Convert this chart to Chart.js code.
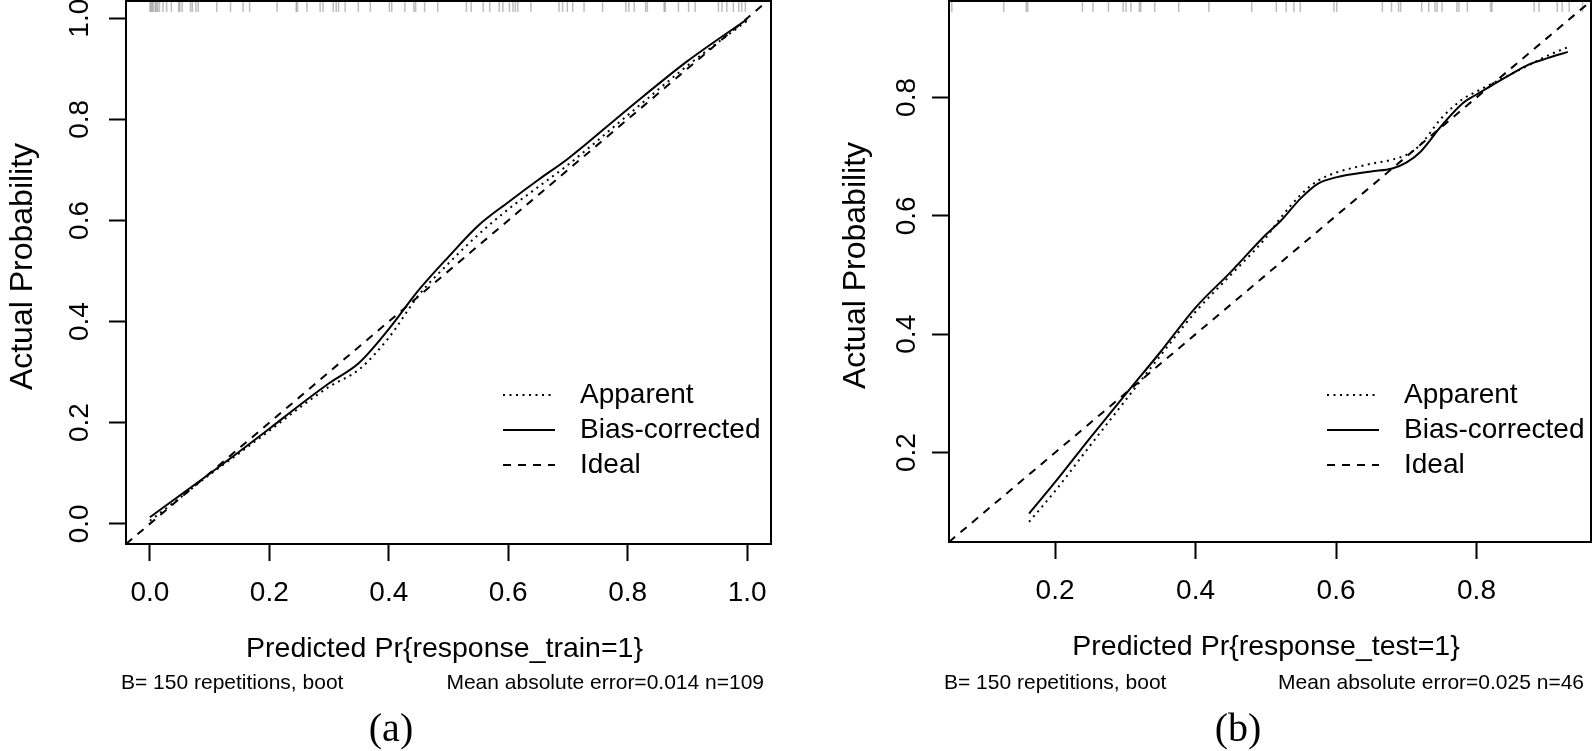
<!DOCTYPE html>
<html>
<head>
<meta charset="utf-8">
<script src="https://cdn.jsdelivr.net/npm/chart.js@4.4.1/dist/chart.umd.min.js"></script>
<style>
  html, body { margin: 0; padding: 0; background: #fff; }
  .panel { position: absolute; top: 0; width: 797px; height: 751px; }
  #pa { left: 0; }
  #pb { left: 797px; }
</style>
</head>
<body>
<div class="panel" id="pa"><canvas id="ca"></canvas></div>
<div class="panel" id="pb"><canvas id="cb"></canvas></div>
<script>
// --- DATA: panel (a), training set ---
const trainX        = [0.0, 0.05, 0.1, 0.15, 0.2, 0.25, 0.3, 0.35, 0.4, 0.45, 0.5, 0.55, 0.6, 0.65, 0.7, 0.8, 0.9, 1.0];
const trainApparent = [0.006, 0.051, 0.097, 0.140, 0.184, 0.229, 0.271, 0.305, 0.368, 0.452, 0.515, 0.572, 0.622, 0.666, 0.710, 0.808, 0.906, 0.995];
const trainBias     = [0.013, 0.056, 0.099, 0.143, 0.188, 0.234, 0.278, 0.318, 0.385, 0.462, 0.528, 0.590, 0.636, 0.680, 0.722, 0.820, 0.915, 0.998];
const trainRug = [0.000, 0.002, 0.004, 0.006, 0.009, 0.011, 0.013, 0.016, 0.022, 0.028, 0.036, 0.048, 0.050, 0.054,
  0.068, 0.071, 0.077, 0.081, 0.112, 0.135, 0.156, 0.167, 0.213, 0.245, 0.247, 0.263, 0.285, 0.290, 0.307, 0.312,
  0.316, 0.327, 0.349, 0.369, 0.401, 0.405, 0.427, 0.442, 0.445, 0.460, 0.482, 0.530, 0.538, 0.558, 0.569, 0.585,
  0.591, 0.602, 0.608, 0.612, 0.616, 0.638, 0.685, 0.691, 0.699, 0.708, 0.727, 0.758, 0.797, 0.802, 0.811, 0.830,
  0.833, 0.861, 0.863, 0.885, 0.902, 0.913, 0.952, 0.958, 0.966, 0.977, 0.986, 0.991, 0.997];
const trainTicks = [0.0, 0.2, 0.4, 0.6, 0.8, 1.0];
const trainLimX = [-0.04, 1.04];
const trainLimY = [-0.04, 1.034];

// --- DATA: panel (b), test set ---
const testX        = [0.163, 0.2, 0.25, 0.3, 0.35, 0.4, 0.45, 0.5, 0.52, 0.55, 0.575, 0.6, 0.65, 0.68, 0.7, 0.72, 0.75, 0.78, 0.8, 0.85, 0.875, 0.9, 0.93];
const testApparent = [0.083, 0.135, 0.212, 0.288, 0.364, 0.438, 0.500, 0.563, 0.595, 0.636, 0.660, 0.673, 0.688, 0.695, 0.703, 0.720, 0.765, 0.797, 0.810, 0.840, 0.855, 0.870, 0.885];
const testBias     = [0.097, 0.150, 0.225, 0.298, 0.370, 0.445, 0.505, 0.568, 0.590, 0.630, 0.655, 0.665, 0.675, 0.680, 0.690, 0.708, 0.752, 0.790, 0.805, 0.840, 0.856, 0.866, 0.877];
const testRug = [0.053, 0.127, 0.159, 0.161, 0.239, 0.254, 0.276, 0.297, 0.301, 0.308, 0.320, 0.322, 0.342, 0.376,
  0.419, 0.480, 0.515, 0.529, 0.540, 0.549, 0.597, 0.601, 0.666, 0.679, 0.689, 0.692, 0.722, 0.732, 0.741, 0.744,
  0.751, 0.772, 0.775, 0.787, 0.820, 0.822, 0.882, 0.889, 0.915, 0.922, 0.932, 0.951];
const testTicks = [0.2, 0.4, 0.6, 0.8];
const testLim = [0.049, 0.963];

const legendLabels = ['Apparent', 'Bias-corrected', 'Ideal'];

const SANS = '"Liberation Sans", Arial, sans-serif';
const SERIF = '"Liberation Serif", "Times New Roman", serif';
const DOT = [2, 4.5];
const DASH = [8, 7];

function pts(xs, ys) {
  return xs.map((x, i) => ({ x, y: ys[i] }));
}

// draws the R-style box, rug, labels and legend
function rDecor(cfg) {
  return {
    id: 'rDecor',
    afterDatasetsDraw(chart) {
      const { ctx, chartArea: a, scales: { x, y } } = chart;
      const cx = (a.left + a.right) / 2;
      const cy = (a.top + a.bottom) / 2;
      ctx.save();
      ctx.strokeStyle = '#000';
      ctx.lineWidth = 2;
      ctx.strokeRect(a.left, a.top, a.right - a.left, a.bottom - a.top);

      // rug of predicted values along the top
      ctx.strokeStyle = 'rgba(0,0,0,0.26)';
      ctx.lineWidth = 1.5;
      cfg.rug.forEach(v => {
        const px = x.getPixelForValue(v);
        ctx.beginPath();
        ctx.moveTo(px, a.top + 1);
        ctx.lineTo(px, a.top + 11);
        ctx.stroke();
      });

      // tick labels
      ctx.fillStyle = '#000';
      ctx.font = '28px ' + SANS;
      ctx.textAlign = 'center';
      ctx.textBaseline = 'middle';
      cfg.ticks.forEach(v => ctx.fillText(v.toFixed(1), x.getPixelForValue(v), a.bottom + 49));
      cfg.ticks.forEach(v => {
        ctx.save();
        ctx.translate(a.left - cfg.yLabOff, y.getPixelForValue(v));
        ctx.rotate(-Math.PI / 2);
        ctx.fillText(v.toFixed(1), 0, 0);
        ctx.restore();
      });

      // axis titles
      ctx.font = '28.5px ' + SANS;
      ctx.fillText(cfg.xTitle, cx - 4, a.bottom + 105);
      ctx.save();
      ctx.font = '32px ' + SANS;
      ctx.translate(a.left - cfg.yTitleOff, cy - 6);
      ctx.rotate(-Math.PI / 2);
      ctx.fillText('Actual Probability', 0, 0);
      ctx.restore();

      // subtitle line
      ctx.font = '21px ' + SANS;
      ctx.textAlign = 'left';
      ctx.fillText('B= 150 repetitions, boot', a.left - 5, 683);
      ctx.textAlign = 'right';
      ctx.fillText(cfg.note, a.right - 7, 683);

      // panel letter
      ctx.font = '40px ' + SERIF;
      ctx.textAlign = 'center';
      ctx.fillText(cfg.letter, cfg.letterX, 730);

      // legend
      const dashes = [DOT, [], DASH];
      ctx.font = '28px ' + SANS;
      ctx.textAlign = 'left';
      legendLabels.forEach((lab, i) => {
        const ly = cfg.legend.y + i * 35;
        ctx.setLineDash(dashes[i]);
        ctx.lineWidth = 2;
        ctx.strokeStyle = '#000';
        ctx.beginPath();
        ctx.moveTo(cfg.legend.x, ly);
        ctx.lineTo(cfg.legend.x + 52, ly);
        ctx.stroke();
        ctx.setLineDash([]);
        ctx.fillText(lab, cfg.legend.x + 77, ly);
      });
      ctx.restore();
    }
  };
}

function makeChart(id, xs, app, bias, limX, limY, ticks, pad, decor) {
  const axis = (lim) => ({
    type: 'linear',
    min: lim[0],
    max: lim[1],
    afterBuildTicks: s => { s.ticks = ticks.map(v => ({ value: v })); },
    afterFit: s => { if (s.isHorizontal()) s.height = 0; else s.width = 0; },
    ticks: { display: false },
    border: { display: false },
    grid: { drawOnChartArea: false, drawTicks: true, tickLength: 17, tickColor: '#000', tickWidth: 2 }
  });
  return new Chart(document.getElementById(id), {
    type: 'scatter',
    data: {
      datasets: [
        { label: 'Ideal', data: pts(limX, limX), showLine: true, borderColor: '#000', borderWidth: 2, borderDash: DASH, pointRadius: 0 },
        { label: 'Apparent', data: pts(xs, app), showLine: true, borderColor: '#000', borderWidth: 2, borderDash: DOT, pointRadius: 0, cubicInterpolationMode: 'monotone' },
        { label: 'Bias-corrected', data: pts(xs, bias), showLine: true, borderColor: '#000', borderWidth: 2, pointRadius: 0, cubicInterpolationMode: 'monotone' }
      ]
    },
    options: {
      responsive: true,
      maintainAspectRatio: false,
      animation: false,
      layout: { padding: pad },
      plugins: { legend: { display: false }, tooltip: { enabled: false } },
      scales: { x: axis(limX), y: axis(limY) }
    },
    plugins: [rDecor(decor)]
  });
}

makeChart('ca', trainX, trainApparent, trainBias, trainLimX, trainLimY, trainTicks,
  { left: 126, top: 1, right: 26, bottom: 207 },
  { rug: trainRug, ticks: trainTicks, xTitle: 'Predicted Pr{response_train=1}',
    note: 'Mean absolute error=0.014 n=109', letter: '(a)', letterX: 391,
    yLabOff: 46, yTitleOff: 103, legend: { x: 503, y: 395 } });

makeChart('cb', testX, testApparent, testBias, testLim, testLim, testTicks,
  { left: 152, top: 1, right: 3, bottom: 209 },
  { rug: testRug, ticks: testTicks, xTitle: 'Predicted Pr{response_test=1}',
    note: 'Mean absolute error=0.025 n=46', letter: '(b)', letterX: 441,
    yLabOff: 42, yTitleOff: 93, legend: { x: 530, y: 395 } });
</script>
</body>
</html>
